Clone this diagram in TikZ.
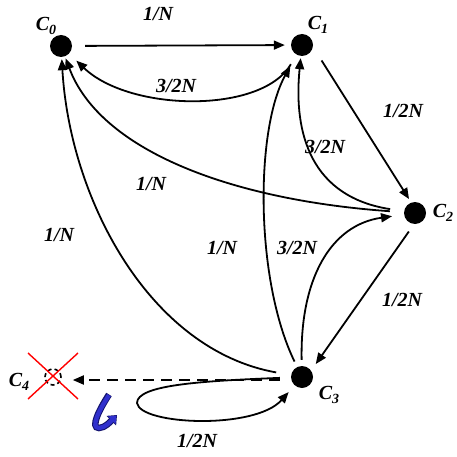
\documentclass[tikz,border=0pt]{standalone}
\usepackage{fontspec}
\setmainfont{Liberation Serif}
\usetikzlibrary{arrows.meta}
\definecolor{arrowblue}{RGB}{48,48,205}
\definecolor{arrownavy}{RGB}{20,20,110}
\newcommand\csub[1]{\raisebox{-0.45ex}{\fontsize{14}{14}\selectfont #1}}
\begin{document}
\begin{tikzpicture}[x=1pt,y=-1pt,
  dot/.style={circle,fill=black,minimum size=22pt,inner sep=0pt},
  arr/.style={line width=1.8pt,-{Triangle[length=11pt,width=9pt]}},
  lab/.style={font=\fontsize{20}{24}\selectfont\bfseries\itshape,inner sep=0pt},
]
\useasboundingbox (0,0) rectangle (456,457);

% states
\node[dot] (C0) at (61,46) {};
\node[dot] (C1) at (302,45) {};
\node[dot] (C2) at (415,213) {};
\node[dot] (C3) at (302,377) {};
\node[circle,draw,line width=1.6pt,dash pattern=on 4pt off 3pt,minimum size=16pt,inner sep=0pt] (C4) at (53,377) {};

% state names
\node[lab] (n0) at (46,26) {C\csub{0}};
\node[lab] (n1) at (318,25) {C\csub{1}};
\node[lab] (n2) at (443,213) {C\csub{2}};
\node[lab] (n3) at (329,395) {C\csub{3}};
\node[lab] (n4) at (19,382) {C\csub{4}};

% transitions
\draw[arr,shorten <=13pt,shorten >=6pt] (C0) -- (C1);
\draw[arr,shorten <=11pt,shorten >=10pt] (C1) .. controls (262,114) and (130,112) .. (C0);
\draw[arr,shorten <=16pt,shorten >=4pt] (C1.-10) -- (C2.110);
\draw[arr,shorten <=14pt,shorten >=2pt] (C2) .. controls (312,197) and (293,135) .. (C1);
\draw[arr,shorten <=14pt,shorten >=2pt] (C2) .. controls (230,200) and (100,150) .. (C0);
\draw[arr,shorten <=9pt,shorten >=8pt] (C2.-95) -- (C3.35);
\draw[arr,shorten <=6pt,shorten >=12pt] (C3) .. controls (300,280) and (330,225) .. (C2);
\draw[arr,shorten <=6pt,shorten >=13pt] (C3) .. controls (255,280) and (255,130) .. (C1);
\draw[arr,shorten <=15pt,shorten >=2pt] (C3) .. controls (150,350) and (70,200) .. (C0);
\draw[arr,shorten <=11pt,shorten >=9pt] (C3) .. controls (200,381) and (137,385) .. (137,403) .. controls (140,425) and (255,430) .. (C3);
\draw[arr,dash pattern=on 11pt off 7pt,shorten <=11pt,shorten >=11pt] ([yshift=-3pt]C3.west) -- ([yshift=-3pt]C4.east);

% rates
\node[lab] (r01) at (158,14) {1/N};
\node[lab] (r10) at (176,86) {3/2N};
\node[lab] (r12) at (403,111) {1/2N};
\node[lab] (r21) at (325,147) {3/2N};
\node[lab] (r20) at (151,184) {1/N};
\node[lab] (r30) at (59,235) {1/N};
\node[lab] (r31) at (222,248) {1/N};
\node[lab] (r32) at (297,248) {3/2N};
\node[lab] (r23) at (402,300) {1/2N};
\node[lab] (r33) at (197,441) {1/2N};

% cross over C4
\draw[red,line width=1.4pt] (28,353) -- (78,399);
\draw[red,line width=1.4pt] (78,353) -- (28,399);

% blue curved arrow
\draw[arrownavy,line width=6.5pt,-{Triangle[length=8pt,width=13pt]}] (109,394.5) .. controls (99,410) and (90,428) .. (99,428) .. controls (105,428) and (111,421) .. (117,415);
\draw[arrowblue,line width=4.3pt,-{Triangle[length=6.5pt,width=10pt]},shorten >=0.8pt] (109,395.2) .. controls (99,410) and (90,428) .. (99,428) .. controls (105,428) and (111,421) .. (117,415);
\end{tikzpicture}
\end{document}
